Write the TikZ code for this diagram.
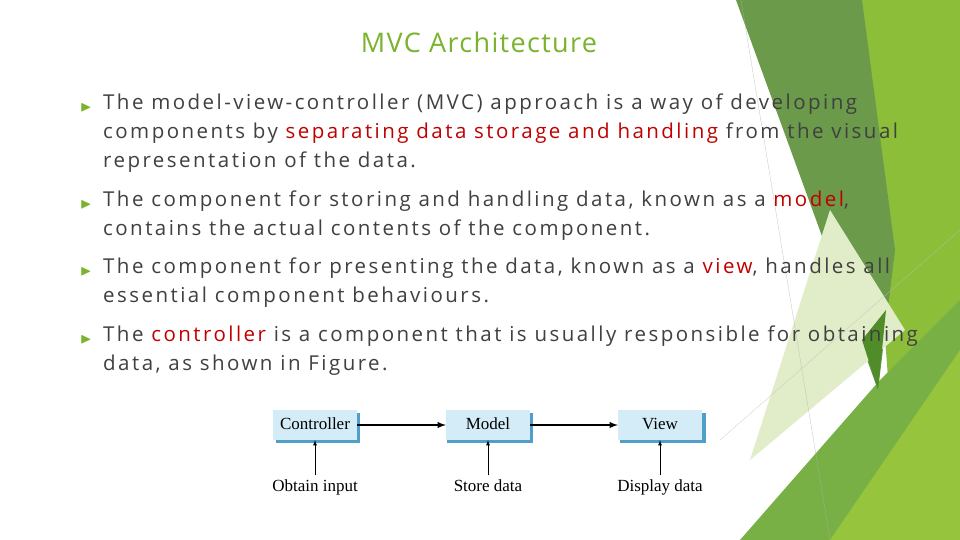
\documentclass[tikz,border=0pt]{standalone}
\usepackage{amssymb}
\usepackage{fontspec}
\setmainfont{Liberation Serif}
\newfontfamily\slidefont[LetterSpace=12]{Open Sans}
\newfontfamily\titlefont[LetterSpace=5]{Open Sans}
\usetikzlibrary{positioning}
\definecolor{titlegreen}{HTML}{7AB32E}
\definecolor{bodygray}{HTML}{404040}
\definecolor{hilite}{HTML}{C00000}
\definecolor{boxfill}{HTML}{D4ECF7}
\definecolor{boxshade}{HTML}{4F9FC9}
\tikzset{
  mvcbox/.style={fill=boxfill, minimum width=84pt, minimum height=30pt, text height=12pt, text depth=3pt, font=\fontsize{17}{17}\selectfont},
  caption/.style={text height=12pt, text depth=4pt, font=\fontsize{17}{17}\selectfont},
  bullet/.style={anchor=north west, align=left, inner sep=0pt,
    font=\slidefont\fontsize{20.5}{29}\selectfont, text=bodygray},
}
\newcommand{\red}[1]{\textcolor{hilite}{#1}}
\begin{document}
\begin{tikzpicture}[x=1pt,y=-1pt]
\useasboundingbox (0,0) rectangle (960,540);
% background facets
\fill[white] (0,0) rectangle (960,540);
\fill[fill={rgb,255:red,141;green,190;blue,58}] (860,0) -- (960,0) -- (960,540) -- (900,540) -- cycle;
\fill[fill={rgb,255:red,106;green,154;blue,74}] (736,0) -- (862,0) -- (895,250) -- (878,390) -- cycle;
\fill[fill={rgb,255:red,225;green,236;blue,200}] (750,460) -- (830,210) -- (905,330) -- cycle;
\fill[fill={rgb,255:red,120;green,176;blue,70}] (740,540) -- (880,380) -- (960,300) -- (960,540) -- cycle;
\fill[fill={rgb,255:red,150;green,196;blue,60}] (830,540) -- (960,350) -- (960,540) -- cycle;
\fill[fill={rgb,255:red,80;green,140;blue,40}] (862,340) -- (886,310) -- (878,390) -- cycle;
\draw[gray!60, very thin] (741,0) -- (830,540);
\draw[gray!50, very thin] (720,440) -- (960,230);
% title
\node[font=\titlefont\fontsize{27}{27}\selectfont, text=titlegreen] (title) at (479,42) {MVC Architecture};
% bullets
\foreach \y in {108,205,272,340}
  \node[text=titlegreen, font=\fontsize{15}{15}\selectfont, inner sep=0pt] at (86,\y) {$\blacktriangleright$};
\node[bullet] (b1) at (103,94) {The model-view-controller (MVC) approach is a way of developing\\components by \red{separating data storage and handling} from the visual\\representation of the data.};
\node[bullet] (b2) at (103,191) {The component for storing and handling data, known as a \red{model},\\contains the actual contents of the component.};
\node[bullet] (b3) at (103,258) {The component for presenting the data, known as a \red{view}, handles all\\essential component behaviours.};
\node[bullet] (b4) at (103,326) {The \red{controller} is a component that is usually responsible for obtaining\\data, as shown in Figure.};
% diagram
\fill[boxshade] (276,413) rectangle (360,443);
\fill[boxshade] (447,413) rectangle (533,443);
\fill[boxshade] (620,413) rectangle (706,443);
\node[mvcbox] (ctrl) at (315,425) {Controller};
\node[mvcbox] (model) at (488,425) {Model};
\node[mvcbox] (view) at (660,425) {View};
\node[caption] (obtain) at (315,487) {Obtain input};
\node[caption] (store) at (488,487) {Store data};
\node[caption] (disp) at (660,487) {Display data};
\draw[-latex, line width=1.8pt] (ctrl) -- (model);
\draw[-latex, line width=1.8pt] (model) -- (view);
\draw[-latex, thick] (obtain) -- (ctrl);
\draw[-latex, thick] (store) -- (model);
\draw[-latex, thick] (disp) -- (view);
\end{tikzpicture}
\end{document}
